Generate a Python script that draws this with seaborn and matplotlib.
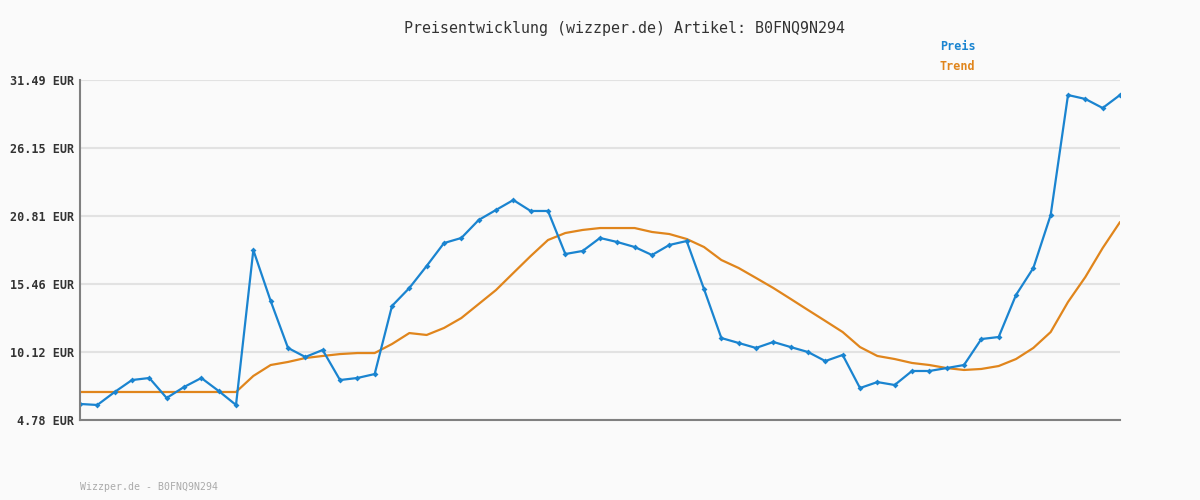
import numpy as np
import pandas as pd
import matplotlib
matplotlib.use("Agg")
import matplotlib.pyplot as plt
import seaborn as sns

title = "Preisentwicklung (wizzper.de) Artikel: B0FNQ9N294"
footer = "Wizzper.de - B0FNQ9N294"
y_ticks = [4.78, 10.12, 15.46, 20.81, 26.15, 31.49]

preis = [6.04, 5.96, 6.98, 7.92, 8.08, 6.51, 7.37, 8.08, 7.06, 5.96,
         18.13, 14.13, 10.44, 9.73, 10.28, 7.92, 8.08, 8.39, 13.74, 15.15,
         16.88, 18.68, 19.08, 20.49, 21.28, 22.06, 21.20, 21.20, 17.82, 18.06,
         19.08, 18.76, 18.37, 17.74, 18.53, 18.84, 15.07, 11.22, 10.83, 10.44,
         10.91, 10.51, 10.12, 9.41, 9.89, 7.29, 7.76, 7.53, 8.63, 8.63,
         8.86, 9.10, 11.14, 11.30, 14.60, 16.72, 20.88, 30.31, 30.00, 29.29, 30.31]
trend = [6.98] * 10 + [
         8.24, 9.10, 9.34, 9.65, 9.81, 9.96, 10.04, 10.04, 10.75, 11.61,
         11.46, 12.01, 12.79, 13.89, 14.99, 16.33, 17.66, 18.92, 19.47, 19.71,
         19.86, 19.86, 19.86, 19.55, 19.39, 19.00, 18.37, 17.35, 16.72, 15.94,
         15.15, 14.29, 13.42, 12.56, 11.69, 10.51, 9.81, 9.57, 9.26, 9.10,
         8.86, 8.71, 8.79, 9.02, 9.57, 10.44, 11.69, 14.05, 16.01, 18.29, 20.33]

df = pd.DataFrame({"idx": np.arange(len(preis)), "Preis": preis, "Trend": trend})

sns.set_theme(style="white")
plt.rcParams["font.family"] = "DejaVu Sans Mono"
bg = "#fafafa"
blue = "#1a84d0"
orange = "#e0851c"

fig = plt.figure(figsize=(12, 5), dpi=100, facecolor=bg)
ax = fig.add_axes([80 / 1200, 0.16, 1040 / 1200, 0.68])
ax.set_facecolor(bg)

sns.lineplot(data=df, x="idx", y="Trend", ax=ax, color=orange, linewidth=1.6)
sns.lineplot(data=df, x="idx", y="Preis", ax=ax, color=blue, linewidth=1.6,
             marker="D", markersize=3, markeredgewidth=0)

ax.set_xlim(0, len(preis) - 1)
ax.set_ylim(y_ticks[0], y_ticks[-1])
ax.set_yticks(y_ticks)
ax.set_yticklabels([f"{v:.2f} EUR" for v in y_ticks], fontsize=8.5, color="#333333", weight="bold")
ax.set_xticks([])
ax.set_xlabel("")
ax.set_ylabel("")
ax.grid(axis="y", color="#e2e2e2", linewidth=1.5)
ax.tick_params(axis="y", length=0, pad=4)
for s in ["top", "right"]:
    ax.spines[s].set_visible(False)
for s in ["left", "bottom"]:
    ax.spines[s].set_color("#808080")
    ax.spines[s].set_linewidth(1.5)

fig.text(0.52, 0.944, title, ha="center", va="center", fontsize=10.8, color="#333333")
fig.text(940 / 1200, 0.907, "Preis", ha="left", va="center", fontsize=8.5, color=blue, weight="bold")
fig.text(940 / 1200, 0.866, "Trend", ha="left", va="center", fontsize=8.5, color=orange, weight="bold")
fig.text(80 / 1200, 0.026, footer, ha="left", va="center", fontsize=7.1, color="#aaaaaa")

fig.savefig("out.png", dpi=100, facecolor=bg)
